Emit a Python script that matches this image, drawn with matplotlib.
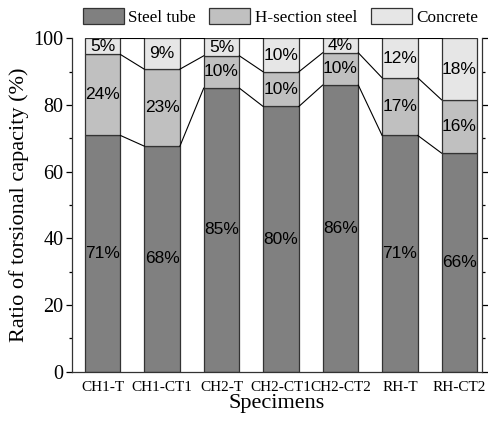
import matplotlib
matplotlib.use("Agg")
import matplotlib.pyplot as plt
import numpy as np
from matplotlib.ticker import MultipleLocator
from matplotlib.patches import Patch

specimens = ["CH1-T", "CH1-CT1", "CH2-T", "CH2-CT1", "CH2-CT2", "RH-T", "RH-CT2"]
steel_tube = [70.9, 67.7, 85.1, 79.6, 86.0, 70.9, 65.6]
h_section = [24.3, 23.1, 9.7, 10.4, 9.7, 17.3, 16.0]
concrete = [4.8, 9.2, 5.2, 10.0, 4.3, 11.8, 18.4]
series_names = ["Steel tube", "H-section steel", "Concrete"]
colors = ["#808080", "#c0c0c0", "#e6e6e6"]

serif = ["Liberation Serif", "DejaVu Serif"]
sans = ["Liberation Sans", "DejaVu Sans"]

fig = plt.figure(figsize=(4.89, 4.23), dpi=100)
ax = fig.add_axes([0.1466, 0.1212, 0.8391, 0.7878])

x = np.arange(len(specimens))
width = 0.6
data = [steel_tube, h_section, concrete]
bottom = np.zeros(len(specimens))
edge = "#333333"
for vals, col in zip(data, colors):
    vals = np.array(vals, dtype=float)
    ax.bar(x, vals, width, bottom=bottom, color=col, edgecolor=edge, linewidth=0.9, zorder=2)
    for xi, b, v in zip(x, bottom, vals):
        ax.text(xi, b + v / 2, f"{round(v):d}%", ha="center", va="center",
                fontsize=12.5, family=sans, color="black", zorder=4)
    bottom = bottom + vals
    # connecting lines between stacks
    for i in range(len(specimens) - 1):
        ax.plot([x[i] + width / 2, x[i + 1] - width / 2], [bottom[i], bottom[i + 1]],
                color="black", linewidth=0.8, zorder=3)

ax.set_xlim(-0.52, 6.38)
ax.set_ylim(0, 100)
ax.set_xticks(x)
ax.set_xticklabels(specimens, family=serif, fontsize=11)
ax.yaxis.set_major_locator(MultipleLocator(20))
ax.yaxis.set_minor_locator(MultipleLocator(10))
for lab in ax.get_yticklabels():
    lab.set_family(serif)
    lab.set_fontsize(14.5)

ax.tick_params(axis="y", which="major", direction="out", length=4, width=0.9,
               left=True, right=True, labelleft=True, labelright=False, pad=2)
ax.tick_params(axis="y", which="minor", direction="out", length=2.5, width=0.9,
               left=True, right=True)
ax.tick_params(axis="x", which="major", direction="in", length=3.5, width=0.9, pad=6.5,
               top=False)

ax.spines["top"].set_visible(False)
for s in ["left", "right", "bottom"]:
    ax.spines[s].set_linewidth(0.9)
    ax.spines[s].set_color("#333333")

ax.set_xlabel("Specimens", family=serif, fontsize=16, labelpad=0)
ax.set_ylabel("Ratio of torsional capacity (%)", family=serif, fontsize=16, labelpad=3)

handles = [Patch(facecolor=c, edgecolor=edge, linewidth=0.9) for c in colors]
fig.legend(handles, series_names, loc="center", bbox_to_anchor=(0.573, 0.960), ncol=3,
           frameon=False, prop={"family": serif, "size": 12.3},
           handlelength=2.4, handleheight=1.1, handletextpad=0.25, columnspacing=0.8,
           borderpad=0.1)

fig.savefig("out.png", dpi=100)
